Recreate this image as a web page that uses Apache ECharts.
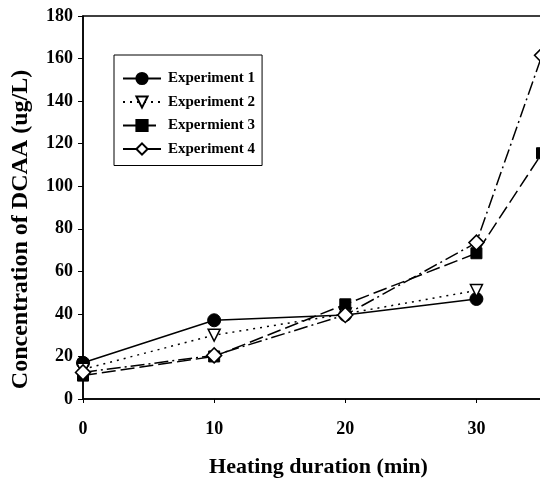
<!DOCTYPE html>
<html>
<head>
<meta charset="utf-8">
<script src="https://cdn.jsdelivr.net/npm/echarts@6/dist/echarts.min.js"></script>
<style>
html,body{margin:0;padding:0;background:#fff;}
#c{width:540px;height:484px;}
</style>
</head>
<body>
<div id="c"></div>
<script>
var xValues = [0, 10, 20, 30, 35];
var exp1 = [17, 37, 39.5, 47, null];
var exp2 = [14, 30, 40, 51, null];
var exp3 = [11, 20, 44.5, 68.5, 115.5];
var exp4 = [12.5, 20.5, 39.5, 73.5, 161.5];
var seriesNames = ['Experiment 1', 'Experiment 2', 'Expermient 3', 'Experiment 4'];
var xTicks = [0, 10, 20, 30];

function pairs(arr) {
  var out = [];
  for (var i = 0; i < xValues.length; i++) {
    if (arr[i] !== null) out.push([xValues[i], arr[i]]);
  }
  return out;
}

var FONT = '"Liberation Serif", "Times New Roman", serif';
var chart = echarts.init(document.getElementById('c'));
chart.setOption({
  animation: false,
  backgroundColor: '#fff',
  grid: {left: 83, top: 16, right: -2, bottom: 85, show: true, borderColor: '#000', borderWidth: 1.5, outerBoundsMode: 'none', containLabel: false},
  legend: {
    orient: 'vertical', left: 114, top: 55,
    borderColor: '#000', borderWidth: 1,
    padding: [16, 7, 9, 8],
    itemWidth: 38, itemHeight: 14, itemGap: 8.5,
    textStyle: {fontFamily: FONT, fontWeight: 'bold', fontSize: 15, color: '#000', padding: [0, 0, 0, 2]},
    data: seriesNames
  },
  xAxis: {
    type: 'value', min: 0, max: 35, interval: 10,
    name: 'Heating duration (min)', nameLocation: 'middle', nameGap: 57,
    nameTextStyle: {fontFamily: FONT, fontWeight: 'bold', fontSize: 22, color: '#000', padding: [0, 0, 0, 12]},
    axisLine: {lineStyle: {color: '#000', width: 1.5}},
    axisTick: {show: true, length: 4, lineStyle: {color: '#000', width: 1}},
    axisLabel: {
      margin: 21, fontFamily: FONT, fontWeight: 'bold', fontSize: 18, color: '#000',
      formatter: function (v) { return xTicks.indexOf(v) >= 0 ? String(v) : ''; }
    },
    splitLine: {show: false}
  },
  yAxis: {
    type: 'value', min: 0, max: 180, interval: 20,
    name: 'Concentration of DCAA (ug/L)', nameLocation: 'middle', nameGap: 50,
    nameTextStyle: {fontFamily: FONT, fontWeight: 'bold', fontSize: 24, color: '#000', padding: [0, 44, 0, 0]},
    axisLine: {show: true, lineStyle: {color: '#000', width: 1.5}},
    axisTick: {show: true, length: 5, lineStyle: {color: '#000', width: 1}},
    axisLabel: {margin: 10, fontFamily: FONT, fontWeight: 'bold', fontSize: 18, color: '#000'},
    splitLine: {show: false}
  },
  series: [
    {
      name: seriesNames[0], type: 'line', data: pairs(exp1),
      symbol: 'circle', symbolSize: 13,
      lineStyle: {color: '#000', width: 1.5, type: 'solid'},
      itemStyle: {color: '#000', borderColor: '#000', borderWidth: 1}
    },
    {
      name: seriesNames[1], type: 'line', data: pairs(exp2),
      symbol: 'triangle', symbolSize: 12, symbolRotate: 180,
      lineStyle: {color: '#000', width: 1.5, type: [2, 5]},
      itemStyle: {color: '#fff', borderColor: '#000', borderWidth: 1.5}
    },
    {
      name: seriesNames[2], type: 'line', data: pairs(exp3),
      symbol: 'rect', symbolSize: 11,
      lineStyle: {color: '#000', width: 1.5, type: [14, 5]},
      itemStyle: {color: '#000', borderColor: '#000', borderWidth: 1}
    },
    {
      name: seriesNames[3], type: 'line', data: pairs(exp4),
      symbol: 'diamond', symbolSize: 15,
      lineStyle: {color: '#000', width: 1.5, type: [14, 4, 2, 4]},
      itemStyle: {color: '#fff', borderColor: '#000', borderWidth: 1.5}
    }
  ]
});
</script>
</body>
</html>
